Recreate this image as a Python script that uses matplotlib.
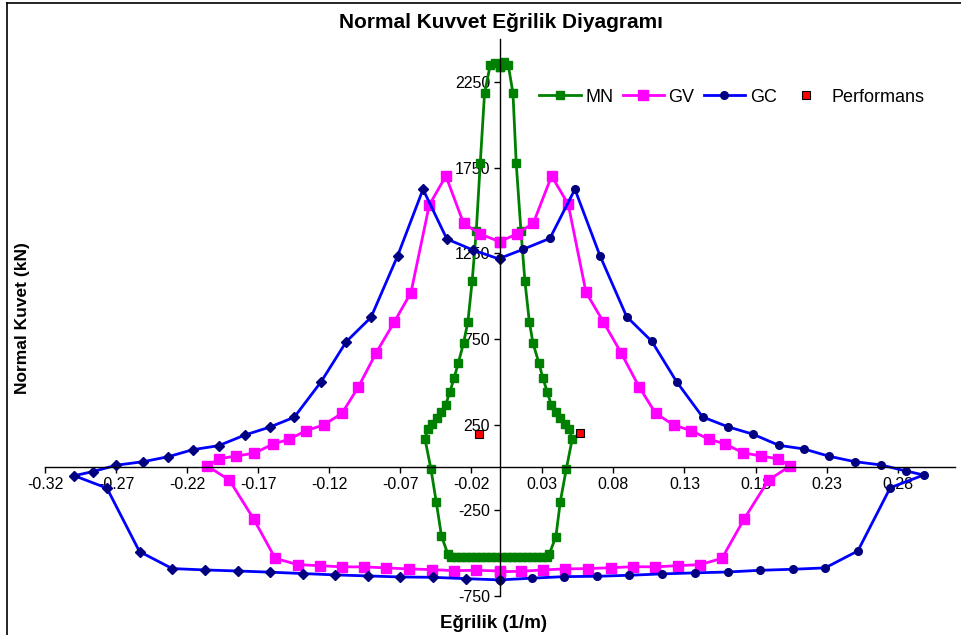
import numpy as np
import matplotlib.pyplot as plt
from matplotlib.lines import Line2D

plt.rcParams['font.family'] = ['Liberation Sans', 'DejaVu Sans']

# MN (green) - positive and negative curvature branches
mn_pos_x = [0.000, 0.0030, 0.0060, 0.0093, 0.0116, 0.0149, 0.0177, 0.0208, 0.0234, 0.0276, 0.0304,
            0.0334, 0.0362, 0.0393, 0.0424, 0.0459, 0.0489, 0.0510, 0.0468, 0.0426, 0.0395, 0.0348,
            0.0330, 0.0295, 0.0260, 0.0225, 0.0190, 0.0155, 0.0120, 0.0085, 0.0050, 0.0015]
mn_pos_y = [2335, 2366, 2348, 2183, 1774, 1382, 1088, 851, 725, 608, 520,
            442, 365, 322, 287, 252, 223, 166, -10, -200, -404, -506,
            -522, -522, -522, -522, -522, -522, -522, -522, -522, -522]
mn_neg_x = [0.000, -0.0035, -0.0067, -0.0107, -0.0137, -0.0165, -0.0194, -0.0224, -0.0255, -0.0292, -0.0322,
            -0.0350, -0.0381, -0.0412, -0.0442, -0.0477, -0.0508, -0.0526, -0.0484, -0.0447, -0.0410, -0.0365,
            -0.0340, -0.0305, -0.0270, -0.0235, -0.0200, -0.0165, -0.0130, -0.0095, -0.0060, -0.0025]
mn_neg_y = [2335, 2362, 2348, 2183, 1778, 1382, 1088, 851, 725, 608, 520,
            442, 365, 322, 287, 252, 223, 166, -10, -200, -400, -506,
            -522, -522, -522, -522, -522, -522, -522, -522, -522, -522]

# GV (magenta)
gv_pos_x = [0.000, 0.0118, 0.0236, 0.0365, 0.0482, 0.0607, 0.0728, 0.0853, 0.0980, 0.1097, 0.1223,
            0.1346, 0.1469, 0.1587, 0.1711, 0.1838, 0.1955, 0.2044, 0.1892, 0.1720, 0.1564, 0.1411,
            0.1254, 0.1094, 0.0937, 0.0782, 0.0621, 0.0461, 0.0301, 0.0149, 0.000]
gv_pos_y = [1317, 1362, 1425, 1701, 1535, 1022, 851, 670, 471, 316, 248,
            215, 166, 137, 86, 67, 51, 9, -73, -300, -530, -567,
            -573, -580, -579, -585, -590, -592, -598, -606, -608]
gv_neg_x = [0.000, -0.0137, -0.0255, -0.0379, -0.0496, -0.0625, -0.0742, -0.0869, -0.0994, -0.1110, -0.1240,
            -0.1362, -0.1481, -0.1599, -0.1728, -0.1854, -0.1974, -0.2060, -0.1903, -0.1732, -0.1580, -0.1423,
            -0.1268, -0.1110, -0.0954, -0.0799, -0.0642, -0.0477, -0.0325, -0.0165, 0.000]
gv_neg_y = [1317, 1362, 1425, 1701, 1531, 1020, 849, 670, 471, 316, 248,
            215, 165, 135, 83, 67, 51, 9, -73, -300, -530, -567,
            -573, -580, -580, -586, -592, -596, -602, -600, -604]

# GC (blue)
gc_pos_x = [0.000, 0.0165, 0.0353, 0.0529, 0.0705, 0.0893, 0.1070, 0.1244, 0.1427, 0.1603, 0.1782,
            0.1965, 0.2141, 0.2319, 0.2497, 0.2680, 0.2856, 0.2983, 0.2748, 0.2520, 0.2290, 0.2063,
            0.1833, 0.1603, 0.1374, 0.1144, 0.0913, 0.0684, 0.0454, 0.0227, 0.000]
gc_pos_y = [1220, 1273, 1337, 1623, 1236, 880, 736, 501, 295, 238, 194,
            129, 108, 65, 34, 15, -20, -44, -118, -487, -586, -594,
            -600, -610, -615, -621, -629, -635, -637, -646, -656]
gc_neg_x = [0.000, -0.0189, -0.0372, -0.0540, -0.0719, -0.0906, -0.1080, -0.1258, -0.1446, -0.1620, -0.1791,
            -0.1979, -0.2159, -0.2331, -0.2507, -0.2699, -0.2863, -0.2994, -0.2764, -0.2535, -0.2305, -0.2074,
            -0.1845, -0.1615, -0.1385, -0.1156, -0.0925, -0.0700, -0.0470, -0.0236, 0.000]
gc_neg_y = [1215, 1269, 1333, 1623, 1234, 876, 734, 499, 293, 235, 190,
            127, 104, 63, 34, 13, -24, -48, -121, -491, -590, -598,
            -604, -611, -619, -627, -633, -639, -641, -649, -656]

# Performans points
perf_x = [-0.0144, 0.0567]
perf_y = [194, 203]

x_ticks = [-0.32, -0.27, -0.22, -0.17, -0.12, -0.07, -0.02, 0.03, 0.08, 0.13, 0.18, 0.23, 0.28]
y_ticks = [-750, -250, 250, 750, 1250, 1750, 2250]

fig = plt.figure(figsize=(9.61, 6.35), dpi=100)
ax = fig.add_axes([45 / 961, 1 - 596 / 635, 909.5 / 961, 557 / 635])

lw = 2.0
ax.plot(mn_pos_x, mn_pos_y, color='#008000', lw=lw, marker='s', ms=5.5, mfc='#008000', mec='#008000', label='MN')
ax.plot(mn_neg_x, mn_neg_y, color='#008000', lw=lw, marker='s', ms=5.5, mfc='#008000', mec='#008000')
ax.plot(gv_pos_x, gv_pos_y, color='#FF00FF', lw=lw, marker='s', ms=6.5, mfc='#FF00FF', mec='#FF00FF', label='GV')
ax.plot(gv_neg_x, gv_neg_y, color='#FF00FF', lw=lw, marker='s', ms=6.5, mfc='#FF00FF', mec='#FF00FF')
ax.plot(gc_pos_x, gc_pos_y, color='#0000FF', lw=lw, marker='o', ms=5.5, mfc='#000080', mec='#000080', label='GC')
ax.plot(gc_neg_x, gc_neg_y, color='#0000FF', lw=lw, marker='D', ms=5, mfc='#000080', mec='#000080')
ax.plot(perf_x, perf_y, ls='none', marker='s', ms=6, mfc='#FF0000', mec='black', mew=0.8, label='Performans')

ax.set_xlim(-0.32, 0.32)
ax.set_ylim(-750, 2500)
ax.set_xticks(x_ticks)
ax.set_xticklabels([f'{v:.2f}' for v in x_ticks])
ax.set_yticks(y_ticks)
ax.set_yticklabels([str(v) for v in y_ticks])

for s in ['top', 'right']:
    ax.spines[s].set_visible(False)
ax.spines['left'].set_position(('data', 0))
ax.spines['bottom'].set_position(('data', 0))
ax.spines['left'].set_linewidth(1.0)
ax.spines['bottom'].set_linewidth(1.0)
ax.tick_params(axis='both', direction='out', length=4, width=1, labelsize=11.5, pad=3)
ax.patch.set_alpha(0)

fig.text(501 / 961, 1 - 22 / 635, 'Normal Kuvvet Eğrilik Diyagramı', ha='center', va='center',
         fontsize=15, fontweight='bold')
fig.text(23 / 961, 1 - 318 / 635, 'Normal Kuvet (kN)', ha='center', va='center', rotation=90,
         fontsize=12.5, fontweight='bold')
fig.text(494 / 961, 1 - 623 / 635, 'Eğrilik (1/m)', ha='center', va='center',
         fontsize=13.5, fontweight='bold')

ax.legend(loc='center', bbox_to_anchor=(732 / 961, 1 - 97 / 635), bbox_transform=fig.transFigure,
          ncol=4, frameon=False, fontsize=13, handlelength=2.3, handletextpad=0.25,
          columnspacing=0.5, borderpad=0)

# chart border (top and left edges visible)
fig.add_artist(Line2D([7 / 961, 7 / 961], [0, 1 - 3 / 635], color='black', lw=1.2))
fig.add_artist(Line2D([7 / 961, 1], [1 - 3 / 635, 1 - 3 / 635], color='black', lw=1.2))

fig.savefig('out.png', dpi=100)
